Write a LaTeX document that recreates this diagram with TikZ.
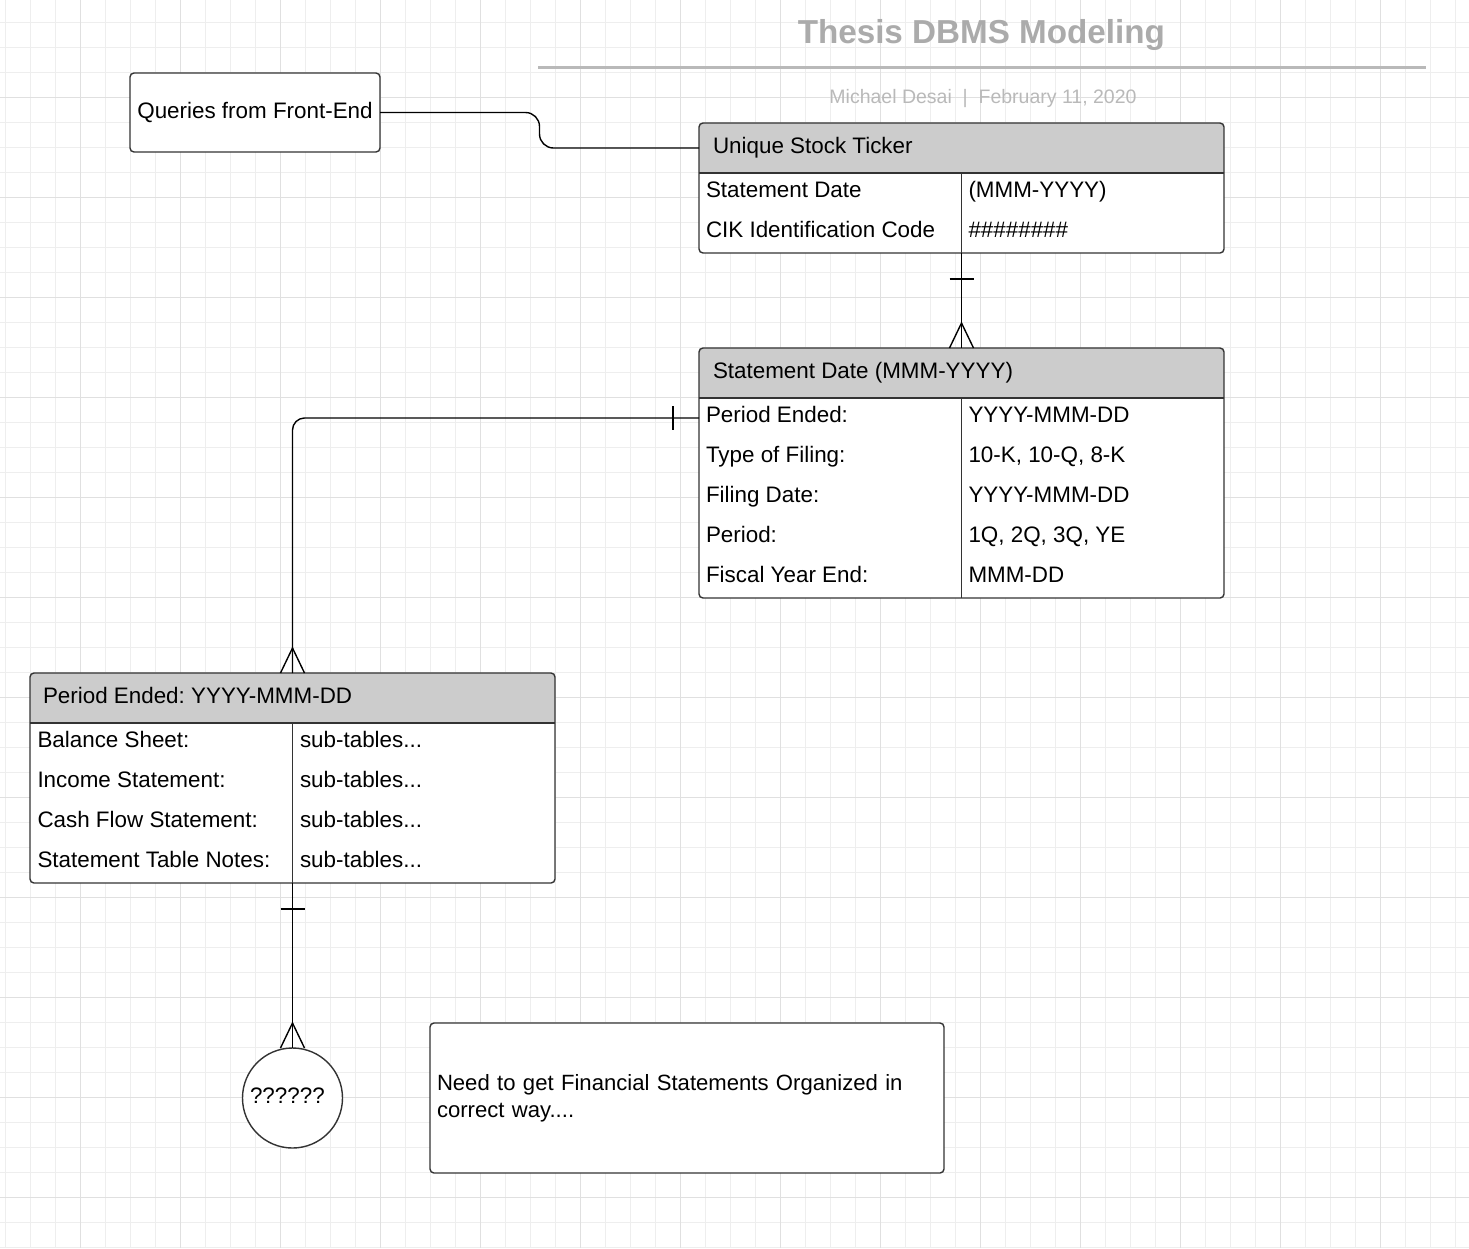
\documentclass[tikz,border=0pt]{standalone}
\usepackage{fontspec}
\setmainfont{Liberation Sans}
\usetikzlibrary{calc}
\definecolor{gridminor}{HTML}{EEEEEE}
\definecolor{gridmajor}{HTML}{E0E0E0}
\definecolor{hdrfill}{HTML}{CCCCCC}
\definecolor{bord}{HTML}{333333}
\definecolor{titlegray}{HTML}{ABABAB}
\definecolor{subgray}{HTML}{B9B9B9}
\newcommand\diafont{\fontsize{22.4}{26.7}\selectfont}
\newcommand\subtbl{sub-tables...}
\frenchspacing
\begin{document}
\begin{tikzpicture}[x=1pt,y=-1pt,
  every node/.style={font=\diafont},
  erbox/.style={draw=bord, line width=1.4pt, fill=white, rounded corners=4pt,
    inner sep=0pt, outer sep=0pt, minimum width=525pt,
    path picture={
      \fill[hdrfill, sharp corners] (path picture bounding box.north west) rectangle ([yshift=-50pt]path picture bounding box.north east);
      \draw[bord, line width=1.4pt, sharp corners] ([yshift=-50pt]path picture bounding box.north west) -- ([yshift=-50pt]path picture bounding box.north east);
      \draw[bord, line width=1.4pt, sharp corners] ([yshift=-50pt]path picture bounding box.north) -- (path picture bounding box.south);
    }},
  cell/.style={anchor=base west, inner sep=0pt, outer sep=0pt, text=black},
  plainbox/.style={draw=bord, line width=1.4pt, fill=white, rounded corners=4pt, inner sep=0pt, outer sep=0pt},
  conn/.style={draw=black, line width=1.4pt},
  gminor/.style={draw=gridminor, line width=1pt},
  gmajor/.style={draw=gridmajor, line width=1pt}
]
% background and grid
\fill[white] (0,0) rectangle (1469,1248);
\useasboundingbox (0,0) rectangle (1469,1248);
\foreach \x in {5,30,...,1469} \draw[gminor] (\x,0) -- (\x,1248);
\foreach \y in {22,47,...,1248} \draw[gminor] (0,\y) -- (1469,\y);
\foreach \x in {80,180,...,1469} \draw[gmajor] (\x,0) -- (\x,1248);
\foreach \y in {97,197,...,1248} \draw[gmajor] (0,\y) -- (1469,\y);

% title block
\node[font=\fontsize{33.2}{38}\selectfont\bfseries, text=titlegray, anchor=base, inner sep=0pt] (title) at (981.3,43.5) {Thesis DBMS Modeling};
\draw[draw=subgray, line width=3pt] (538,67) -- (1426,67);
\node[font=\fontsize{19.5}{23}\selectfont, text=subgray, anchor=base, inner sep=0pt] (sub) at (983,103.3) {Michael Desai\ \ |\ \ February 11, 2020};

% queries box
\node[plainbox, minimum width=250pt, minimum height=79pt] (q) at (255,112.5) {Queries from Front-End};

% table 1
\node[erbox, minimum height=130pt] (t1) at (961.5,188) {};
\node[cell] (t1h) at ($(t1.north west)+(14,30)$) {Unique Stock Ticker};
\foreach \a/\b [count=\i] in {Statement Date/(MMM-YYYY), CIK Identification Code/\#\#\#\#\#\#\#\#}{
  \node[cell] (t1a\i) at ($(t1.north west)+(7,{34.5+40*\i})$) {\a};
  \node[cell] (t1b\i) at ($(t1.north)+(7,{34.5+40*\i})$) {\b};
}

% table 2
\node[erbox, minimum height=250pt] (t2) at (961.5,473) {};
\node[cell] (t2h) at ($(t2.north west)+(14,30)$) {Statement Date (MMM-YYYY)};
\foreach \a/\b [count=\i] in {Period Ended:/YYYY-MMM-DD, Type of Filing:/{10-K, 10-Q, 8-K}, Filing Date:/YYYY-MMM-DD, Period:/{1Q, 2Q, 3Q, YE}, Fiscal Year End:/MMM-DD}{
  \node[cell] (t2a\i) at ($(t2.north west)+(7,{34.5+40*\i})$) {\a};
  \node[cell] (t2b\i) at ($(t2.north)+(7,{34.5+40*\i})$) {\b};
}

% table 3
\node[erbox, minimum height=210pt] (t3) at (292.5,778) {};
\node[cell] (t3h) at ($(t3.north west)+(13,30)$) {Period Ended: YYYY-MMM-DD};
\foreach \a [count=\i] in {Balance Sheet:, Income Statement:, Cash Flow Statement:, Statement Table Notes:}{
  \node[cell] (t3a\i) at ($(t3.north west)+(7.5,{34.5+40*\i})$) {\a};
  \node[cell] (t3b\i) at ($(t3.north)+(7.5,{34.5+40*\i})$) {\subtbl};
}

% circle
\node[draw=bord, line width=1.4pt, fill=white, circle, minimum size=100pt, inner sep=0pt, outer sep=0pt] (c) at (292.5,1098) {};
\node[cell] (ctext) at (250,1103) {??????};

% note
\node[plainbox, minimum width=514pt, minimum height=150pt, text width=500pt, align=left, inner xsep=7pt, font=\fontsize{22.1}{26.7}\selectfont] (n) at (687,1098) {Need to get Financial Statements Organized in\\correct way....};

% connectors
\coordinate (t1hw) at ($(t1.north west)+(0,25)$);
\coordinate (mx) at ($(q.east)!0.5!(t1hw)$);
\draw[conn, rounded corners=14pt] (q.east) -- (q.east -| mx) -- (t1hw -| mx) -- (t1hw);

\draw[conn] (t1.south) -- (t2.north);
\draw[conn] ($(t1.south)+(-12,26)$) -- ($(t1.south)+(12,26)$);
\draw[conn] ($(t2.north)+(-12,0)$) -- ($(t2.north)+(0,-25)$) -- ($(t2.north)+(12,0)$);

\coordinate (t2p) at ($(t2.north west)+(0,70)$);
\draw[conn, rounded corners=12pt] (t2p) -| (t3.north);
\draw[conn] ($(t2p)+(-26,-12)$) -- ($(t2p)+(-26,12)$);
\draw[conn] ($(t3.north)+(-12,0)$) -- ($(t3.north)+(0,-25)$) -- ($(t3.north)+(12,0)$);

\draw[conn] (t3.south) -- (c.north);
\draw[conn] ($(t3.south)+(-12,26)$) -- ($(t3.south)+(12,26)$);
\draw[conn] ($(c.north)+(-12,0)$) -- ($(c.north)+(0,-25)$) -- ($(c.north)+(12,0)$);
\end{tikzpicture}
\end{document}
